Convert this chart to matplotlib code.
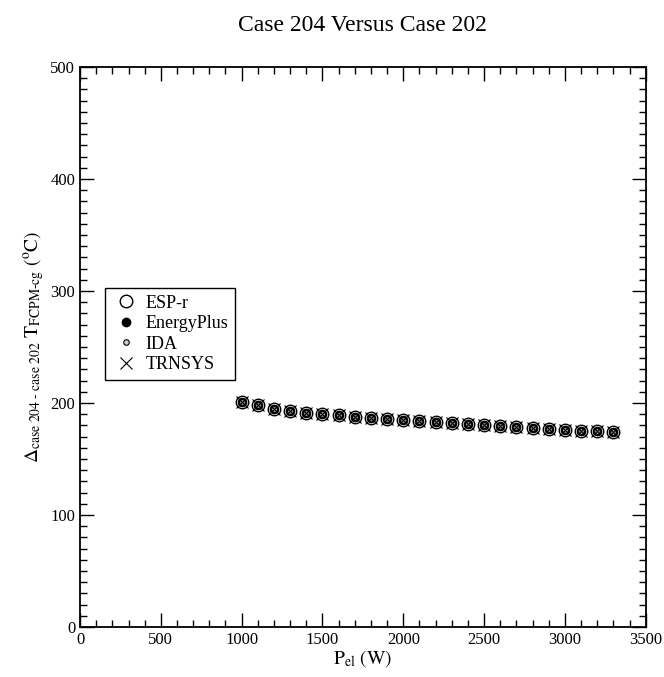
import numpy as np
import matplotlib
matplotlib.use("Agg")
from matplotlib import pyplot as plt
from matplotlib.ticker import MultipleLocator

plt.rcParams['font.family'] = ['Liberation Serif', 'DejaVu Serif']
plt.rcParams['mathtext.fontset'] = 'stix'

# power levels (W)
p_el = [1000, 1100, 1200, 1300, 1400, 1500, 1600, 1700, 1800, 1900, 2000, 2100,
        2200, 2300, 2400, 2500, 2600, 2700, 2800, 2900, 3000, 3100, 3200, 3300]

# delta T values, the four programs agree closely
esp_r = [200.9, 197.9, 195.0, 192.9, 191.4, 189.9, 189.0, 187.5, 186.6, 185.5, 184.6, 184.0,
         183.1, 182.2, 181.6, 180.5, 179.3, 178.6, 177.8, 177.0, 176.1, 175.3, 174.6, 173.8]
energyplus = [200.9, 197.9, 195.0, 192.9, 191.4, 189.9, 189.0, 187.5, 186.6, 185.5, 184.6, 184.0,
              183.1, 182.2, 181.6, 180.5, 179.3, 178.6, 177.8, 177.0, 176.1, 175.3, 174.6, 173.8]
ida = [200.9, 197.9, 195.0, 192.9, 191.4, 189.9, 189.0, 187.5, 186.6, 185.5, 184.6, 184.0,
       183.1, 182.2, 181.6, 180.5, 179.3, 178.6, 177.8, 177.0, 176.1, 175.3, 174.6, 173.8]
trnsys = [200.9, 197.9, 195.0, 192.9, 191.4, 189.9, 189.0, 187.5, 186.6, 185.5, 184.6, 184.0,
          183.1, 182.2, 181.6, 180.5, 179.3, 178.6, 177.8, 177.0, 176.1, 175.3, 174.6, 173.8]

fig = plt.figure(figsize=(6.64, 6.77), dpi=100)
ax = fig.add_axes([0.1205, 0.0739, 0.852, 0.827])

ax.plot(p_el, esp_r, ls='none', marker='o', ms=9, mfc='none', mec='black', mew=1.0, label='ESP-r')
ax.plot(p_el, energyplus, ls='none', marker='o', ms=6, mfc='black', mec='black', label='EnergyPlus')
ax.plot(p_el, ida, ls='none', marker='o', ms=4, mfc='#cccccc', mec='black', mew=0.8, label='IDA')
ax.plot(p_el, trnsys, ls='none', marker='x', ms=8, mec='black', mew=0.8, label='TRNSYS')

ax.set_xlim(0, 3500)
ax.set_ylim(0, 500)
ax.xaxis.set_major_locator(MultipleLocator(500))
ax.xaxis.set_minor_locator(MultipleLocator(100))
ax.yaxis.set_major_locator(MultipleLocator(100))
ax.yaxis.set_minor_locator(MultipleLocator(10))
ax.tick_params(which='both', direction='in', top=True, right=True, labelsize=12, width=1)
ax.tick_params(which='major', length=10)
ax.tick_params(which='minor', length=5)
for s in ax.spines.values():
    s.set_linewidth(1.3)

ax.set_title('Case 204 Versus Case 202', fontsize=17, pad=26)
ax.set_xlabel(r'$\mathrm{P_{el}\ (W)}$', fontsize=14, labelpad=0)
ax.set_ylabel(r'$\Delta_{\mathrm{case\ 204\ \text{-}\ case\ 202}}\ \mathrm{T_{FCPM\text{-}cg}\ (^{o}C)}$',
              fontsize=14, labelpad=2)

leg = ax.legend(loc='upper left', bbox_to_anchor=(0.044, 0.605), fontsize=13,
                fancybox=False, edgecolor='black', framealpha=1, borderpad=0.35,
                labelspacing=0.2, handletextpad=0.3, handlelength=1.6, borderaxespad=0)
leg.get_frame().set_linewidth(1.0)

fig.savefig('out.png', dpi=100)
